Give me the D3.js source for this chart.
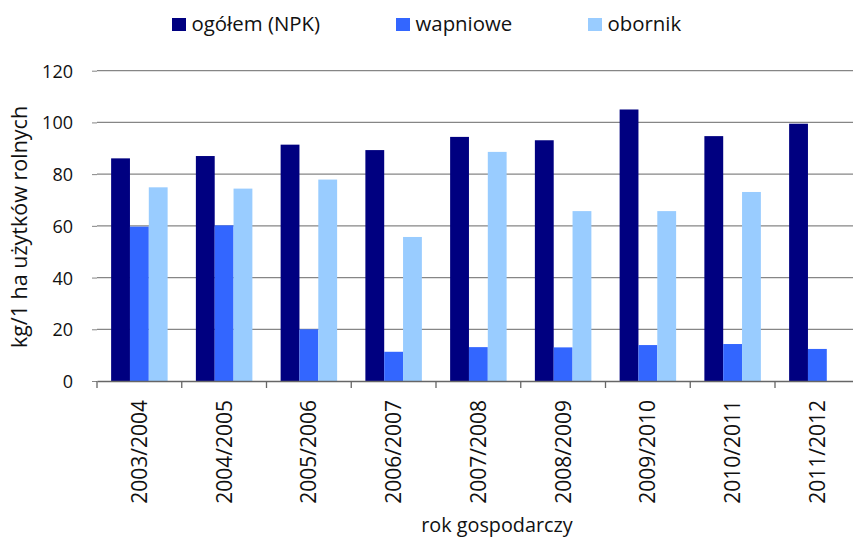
<!DOCTYPE html>
<html><head><meta charset="utf-8">
<script src="https://cdn.jsdelivr.net/npm/d3@7"></script>
<style>
body{margin:0;background:#fff;}
text{font-family:"Open Sans",sans-serif;fill:#111;}
</style></head>
<body><svg id="c" width="853" height="541"></svg>
<script>
const categories=["2003/2004","2004/2005","2005/2006","2006/2007","2007/2008","2008/2009","2009/2010","2010/2011","2011/2012"];
const seriesNames=["ogółem (NPK)","wapniowe","obornik"];
const npk=[86.1,87.0,91.4,89.3,94.4,93.1,105.0,94.7,99.5];
const wapniowe=[59.7,60.2,20.0,11.3,13.1,13.0,13.9,14.3,12.4];
const obornik=[74.9,74.4,77.9,55.7,88.6,65.7,65.7,73.1,null];
const yTicks=[0,20,40,60,80,100,120];
const colors=["#000080","#3366FF","#99CCFF"];

const FF='"Open Sans",sans-serif';
const svg=d3.select("#c");
const mLeft=97, mTop=70.7, mBottom=381, bandW=84.75;
const x=d3.scaleBand().domain(categories).range([mLeft,mLeft+bandW*categories.length]).padding(0);
const x1=d3.scaleBand().domain(seriesNames).range([0,x.bandwidth()*2/3]).padding(0);
const y=d3.scaleLinear().domain([0,120]).range([mBottom,mTop]);

// gridlines
svg.append("g").selectAll("line").data(yTicks.filter(d=>d>0)).join("line")
 .attr("x1",mLeft).attr("x2",853).attr("y1",d=>y(d)).attr("y2",d=>y(d))
 .attr("stroke","#868686").attr("stroke-width",1.3);

// bars
const series=[npk,wapniowe,obornik];
const data=[];
categories.forEach((c,i)=>series.forEach((s,j)=>{ if(s[i]!=null) data.push({c,name:seriesNames[j],v:s[i],j}); }));
svg.append("g").selectAll("rect").data(data).join("rect")
 .attr("x",d=>x(d.c)+x.bandwidth()/6+x1(d.name))
 .attr("width",x1.bandwidth())
 .attr("y",d=>y(d.v)).attr("height",d=>y(0)-y(d.v))
 .attr("fill",d=>colors[d.j]);

// y axis
const ya=svg.append("g").attr("transform",`translate(${mLeft},0)`)
 .call(d3.axisLeft(y).tickValues(yTicks).tickSize(5).tickPadding(19));
ya.select(".domain").remove();
ya.selectAll(".tick line").attr("stroke","#868686");
ya.selectAll(".tick text").attr("font-size",18).attr("font-family",FF).attr("fill","#111").attr("dy","0.36em");

// x axis
const xa=svg.append("g").attr("transform",`translate(0,${mBottom})`)
 .call(d3.axisBottom(x).tickSize(0).tickFormat(d=>d));
xa.select(".domain").attr("stroke","#666").attr("stroke-width",1.3);
xa.selectAll(".tick text").attr("font-size",21).attr("font-family",FF).attr("fill","#111")
 .attr("transform","rotate(-90)").attr("text-anchor","end").attr("x",-19).attr("y",0).attr("dy","0.36em");
// category boundary ticks
const bounds=d3.range(categories.length+1).map(i=>x.range()[0]+i*x.step());
svg.append("g").selectAll("line").data(bounds).join("line")
 .attr("x1",d=>d).attr("x2",d=>d).attr("y1",mBottom).attr("y2",mBottom+7)
 .attr("stroke","#666").attr("stroke-width",1.3);

// axis titles
svg.append("text").attr("transform","translate(27,227) rotate(-90)").attr("text-anchor","middle")
 .attr("font-size",21.5).text("kg/1 ha użytków rolnych");
svg.append("text").attr("x",497).attr("y",532).attr("text-anchor","middle")
 .attr("font-size",19.8).text("rok gospodarczy");

// legend
const legX=[172,396,588];
const lg=svg.append("g").selectAll("g").data(seriesNames).join("g")
 .attr("transform",(d,i)=>`translate(${legX[i]},18)`);
lg.append("rect").attr("width",14).attr("height",13).attr("fill",(d,i)=>colors[i]);
lg.append("text").attr("x",19.5).attr("y",13).attr("font-size",20.4).text(d=>d);
</script></body></html>
